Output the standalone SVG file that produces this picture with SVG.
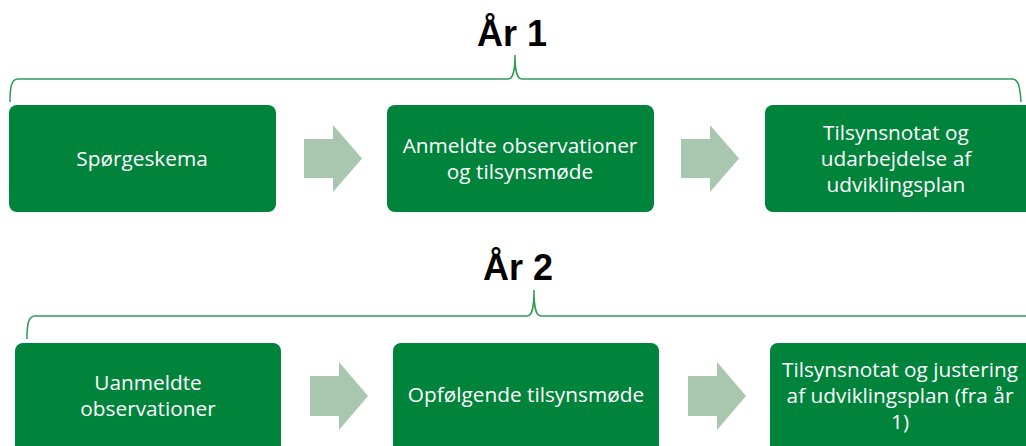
<svg xmlns="http://www.w3.org/2000/svg" width="1026" height="446" viewBox="0 0 1026 446">
<style>
.box{fill:#00833A;}
.arrow{fill:#A9C6AE;}
.br{fill:none;stroke:#2E9B55;stroke-width:1.5;}
.t{font-family:"Open Sans","Liberation Sans",sans-serif;font-size:20.8px;fill:#fff;text-anchor:middle;}
.title{font-family:"Liberation Sans",Arial,sans-serif;font-size:36px;font-weight:bold;fill:#000;text-anchor:middle;}
</style>
<rect width="1026" height="446" fill="#fff"/>
<g id="connectors">
<path class="br" d="M10,102 C10,88 11,79 18,79 L508,79 C513,79 515,72 515,55 C515,72 517,79 522,79 L1012,79 C1019,79 1020,88 1021,102"/>
<path class="br" d="M27,339 C27,325 28,316 35,316 L527,316 C532,316 534,309 534,290 C534,309 536,316 541,316 L1026,316"/>
<polygon class="arrow" points="304,139 333,139 333,125 362,158.5 333,192 333,178 304,178"/>
<polygon class="arrow" points="681,139 710,139 710,125 739,158.5 710,192 710,178 681,178"/>
<polygon class="arrow" points="310,376 339,376 339,362 368,396 339,430 339,416 310,416"/>
<polygon class="arrow" points="688,376 717,376 717,362 746,396 717,430 717,416 688,416"/>
</g>
<g id="title1"><text class="title" x="512" y="46">År 1</text></g>
<g id="title2"><text class="title" x="518" y="280">År 2</text></g>
<g id="n1"><rect class="box" x="9" y="105" width="267" height="107" rx="8"/>
<text class="t" x="142" y="166">Spørgeskema</text></g>
<g id="n2"><rect class="box" x="387" y="105" width="267" height="107" rx="8"/>
<text class="t" x="520" y="153">Anmeldte observationer</text>
<text class="t" x="520" y="179">og tilsynsmøde</text></g>
<g id="n3"><rect class="box" x="765" y="105" width="275" height="107" rx="8"/>
<text class="t" x="896" y="140">Tilsynsnotat og</text>
<text class="t" x="896" y="166">udarbejdelse af</text>
<text class="t" x="896" y="192">udviklingsplan</text></g>
<g id="n4"><rect class="box" x="15" y="343" width="266" height="115" rx="8"/>
<text class="t" x="148" y="390">Uanmeldte</text>
<text class="t" x="148" y="416">observationer</text></g>
<g id="n5"><rect class="box" x="393" y="343" width="266" height="115" rx="8"/>
<text class="t" x="526" y="402">Opfølgende tilsynsmøde</text></g>
<g id="n6"><rect class="box" x="770" y="343" width="275" height="115" rx="8"/>
<text class="t" x="900" y="377">Tilsynsnotat og justering</text>
<text class="t" x="900" y="403">af udviklingsplan (fra år</text>
<text class="t" x="900" y="429">1)</text></g>
</svg>
